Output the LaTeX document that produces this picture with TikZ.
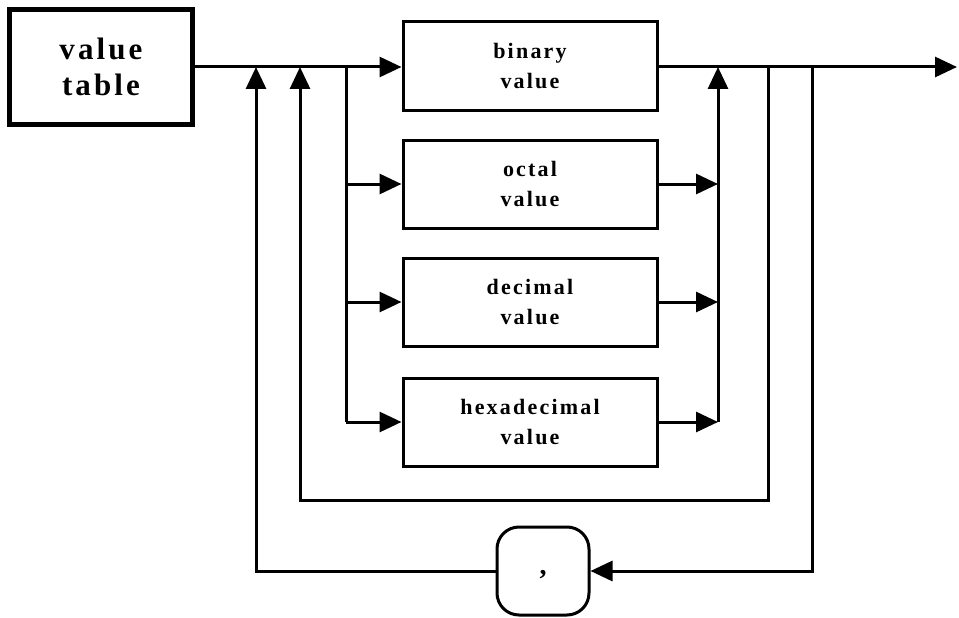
\documentclass[tikz,border=0pt]{standalone}
\usepackage{fontspec}
\setmainfont{Liberation Serif}
\newfontfamily\lblfont[LetterSpace=10]{Liberation Serif}
\usetikzlibrary{arrows.meta}
\tikzset{
  line/.style={line width=3pt},
  arr/.style={line width=3pt,-{Triangle[length=22pt,width=20pt]}},
  boxnode/.style={draw,line width=3pt,minimum width=254pt,minimum height=88pt,
    align=center,font=\lblfont\bfseries\fontsize{22}{30}\selectfont,inner sep=0pt},
}
\begin{document}
\begin{tikzpicture}[x=1pt,y=-1pt]
\useasboundingbox (0,0) rectangle (959,618);
\fill[white] (0,0) rectangle (959,618);
\node[draw,line width=5pt,minimum width=183pt,minimum height=114pt,align=center,
  font=\lblfont\bfseries\fontsize{31}{36}\selectfont,inner sep=0pt] (vt) at (101,67) {value\\table};
\node[boxnode] (bin) at (530,66) {binary\\value};
\node[boxnode] (oct) at (530,184) {octal\\value};
\node[boxnode] (dec) at (530,302) {decimal\\value};
\node[boxnode] (hex) at (530,422) {hexadecimal\\value};
\node[draw,line width=3pt,rounded corners=22pt,minimum width=92pt,minimum height=88pt,
  font=\bfseries\fontsize{28}{28}\selectfont,inner sep=0pt] (comma) at (543,571) {\smash{\raisebox{-3pt}{,}}};
\coordinate (j1) at (256,67);
\coordinate (j2) at (300,67);
\coordinate (j3) at (346,67);
\coordinate (c) at (718,67);
\coordinate (k1) at (768,67);
\coordinate (k2) at (812,67);
\coordinate (exit) at (957,67);
\coordinate (loopa) at (768,500);
\coordinate (loopb) at (300,500);
\coordinate (loopc) at (812,571);
\coordinate (loopd) at (256,571);
% main line
\draw[arr] (vt.east |- j1) -- (bin.west |- j1);
\draw[arr] (bin.east |- exit) -- (exit);
% branches
\draw[line] (j3) -- (j3 |- hex.west);
\draw[arr] (j3 |- oct.west) -- (oct.west);
\draw[arr] (j3 |- dec.west) -- (dec.west);
\draw[arr] (j3 |- hex.west) -- (hex.west);
\draw[arr] (oct.east) -- (oct.east -| c);
\draw[arr] (dec.east) -- (dec.east -| c);
\draw[arr] (hex.east) -- (hex.east -| c);
\draw[arr] (c |- hex.east) -- (c);
% inner loop
\draw[arr] (k1) -- (loopa) -- (loopb) -- (j2);
% outer loop via comma
\draw[arr] (k2) -- (loopc) -- (comma.east);
\draw[arr] (comma.west) -- (loopd) -- (j1);
\end{tikzpicture}
\end{document}
